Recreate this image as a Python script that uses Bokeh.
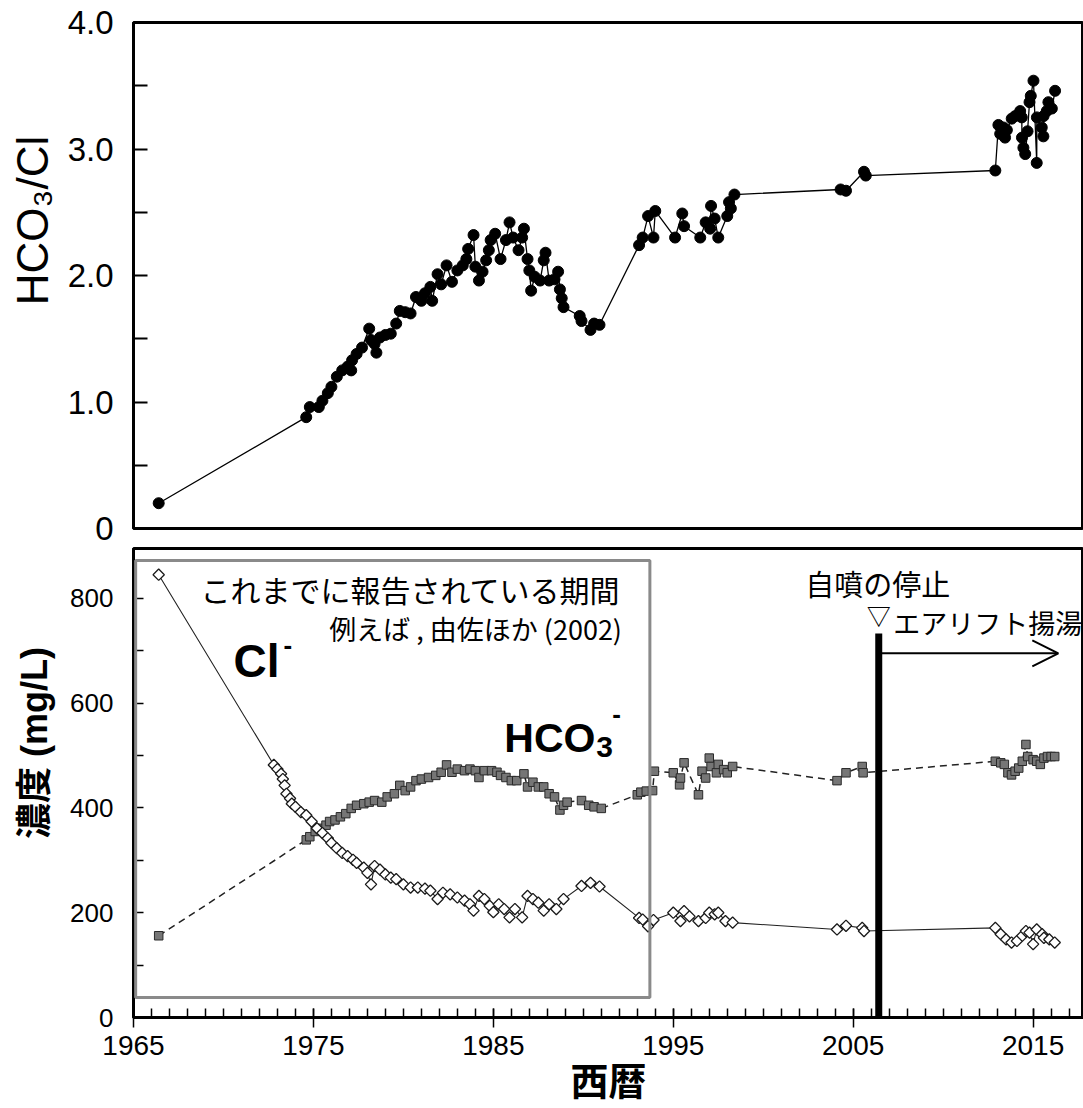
from bokeh.plotting import figure
from bokeh.layouts import column
from bokeh.models import (FixedTicker, CustomJSTickFormatter, Label, BoxAnnotation,
                          Arrow, OpenHead, Range1d)
from bokeh.embed import file_html
from bokeh.resources import INLINE

# ---------------- data ----------------
ratio_year = [1966.4, 1974.6, 1974.8, 1975.3, 1975.5, 1975.8, 1976.0, 1976.3, 1976.6, 1976.9,
              1977.1, 1977.15, 1977.4, 1977.7, 1978.1, 1978.2, 1978.4, 1978.5, 1978.7, 1979.0,
              1979.3, 1979.6, 1979.8, 1980.1, 1980.4, 1980.7, 1981.0, 1981.2, 1981.5, 1981.6,
              1981.9, 1982.1, 1982.4, 1982.7, 1983.0, 1983.3, 1983.5, 1983.6, 1983.9, 1984.0,
              1984.2, 1984.4, 1984.6, 1984.75, 1984.85, 1985.1, 1985.4, 1985.7, 1985.9, 1986.1,
              1986.4, 1986.6, 1986.7, 1986.9, 1987.0, 1987.1, 1987.3, 1987.6, 1987.8, 1987.9,
              1988.1, 1988.4, 1988.6, 1988.7, 1988.8, 1988.9, 1989.8, 1989.9, 1990.4, 1990.6,
              1990.9, 1993.1, 1993.3, 1993.6, 1993.9, 1994.0, 1995.1, 1995.5, 1995.6, 1996.5,
              1996.8, 1997.05, 1997.1, 1997.3, 1997.5, 1998.0, 1998.1, 1998.2, 1998.4, 2004.3,
              2004.6, 2005.6, 2005.7, 2012.9, 2013.07, 2013.17, 2013.35, 2013.44, 2013.54, 2013.81,
              2014.0, 2014.28, 2014.37, 2014.38, 2014.46, 2014.56, 2014.69, 2014.8, 2014.87, 2015.02,
              2015.2, 2015.21, 2015.48, 2015.57, 2015.58, 2015.76, 2015.85, 2016.04, 2016.22]
ratio_val = [0.20, 0.88, 0.96, 0.96, 1.01, 1.07, 1.12, 1.20, 1.25, 1.28,
             1.25, 1.33, 1.38, 1.43, 1.58, 1.49, 1.46, 1.39, 1.51, 1.53,
             1.54, 1.62, 1.72, 1.71, 1.70, 1.83, 1.80, 1.86, 1.91, 1.80,
             2.01, 1.93, 2.08, 1.95, 2.04, 2.08, 2.13, 2.21, 2.32, 2.07,
             1.96, 2.03, 2.12, 2.20, 2.28, 2.33, 2.13, 2.28, 2.42, 2.30,
             2.20, 2.30, 2.37, 2.13, 2.04, 1.88, 1.99, 1.96, 2.12, 2.18,
             1.96, 1.97, 2.03, 1.89, 1.82, 1.75, 1.68, 1.64, 1.57, 1.62,
             1.61, 2.24, 2.30, 2.47, 2.30, 2.51, 2.30, 2.49, 2.39, 2.30,
             2.42, 2.37, 2.55, 2.45, 2.30, 2.47, 2.58, 2.53, 2.64, 2.68,
             2.67, 2.82, 2.79, 2.83, 3.19, 3.12, 3.17, 3.09, 3.15, 3.24,
             3.26, 3.30, 3.25, 3.09, 3.01, 2.96, 3.14, 3.37, 3.42, 3.54,
             2.89, 3.25, 3.17, 3.10, 3.26, 3.30, 3.37, 3.32, 3.46]

cl_year = [1966.4, 1972.8, 1973.0, 1973.2, 1973.3, 1973.4, 1973.5, 1973.7, 1973.8, 1974.0,
           1974.3, 1974.6, 1974.9, 1975.2, 1975.5, 1975.8, 1976.0, 1976.3, 1976.6, 1976.9,
           1977.2, 1977.4, 1977.8, 1978.0, 1978.2, 1978.4, 1978.7, 1979.0, 1979.3, 1979.6,
           1980.0, 1980.4, 1980.8, 1981.2, 1981.5, 1981.9, 1982.2, 1982.6, 1983.0, 1983.4,
           1983.7, 1983.9, 1984.2, 1984.5, 1984.8, 1985.0, 1985.3, 1985.6, 1985.9, 1986.2,
           1986.6, 1986.9, 1987.2, 1987.5, 1987.8, 1988.1, 1988.5, 1988.9, 1989.9, 1990.4,
           1990.9, 1993.1, 1993.3, 1993.6, 1993.9, 1995.0, 1995.4, 1995.6, 1995.9, 1996.4,
           1996.8, 1997.0, 1997.3, 1997.5, 1997.9, 1998.3, 2004.1, 2004.6, 2005.5, 2005.6,
           2012.9, 2013.2, 2013.5, 2013.8, 2014.1, 2014.4, 2014.6, 2014.8, 2015.0, 2015.2,
           2015.5, 2015.6, 2015.9, 2016.2]
cl_val = [845, 482, 474, 465, 455, 443, 427, 418, 408, 402,
          392, 386, 374, 361, 352, 342, 333, 323, 314, 308,
          301, 295, 286, 276, 254, 289, 282, 273, 267, 264,
          254, 248, 248, 246, 242, 226, 238, 235, 229, 223,
          216, 204, 232, 226, 213, 201, 216, 207, 191, 207,
          191, 232, 226, 219, 204, 216, 207, 226, 251, 257,
          250, 190, 187, 174, 186, 200, 184, 203, 193, 184,
          190, 200, 197, 200, 184, 181, 168, 175, 171, 165,
          171, 159, 149, 143, 146, 156, 165, 162, 140, 168,
          159, 152, 149, 143]

hco3_year = [1966.4, 1974.6, 1974.8, 1975.1, 1975.4, 1975.7, 1975.9, 1976.2, 1976.5, 1976.8,
             1977.1, 1977.4, 1977.8, 1978.1, 1978.4, 1978.8, 1979.1, 1979.5, 1979.8, 1980.1,
             1980.4, 1980.7, 1981.0, 1981.4, 1981.8, 1982.1, 1982.4, 1982.7, 1983.0, 1983.4,
             1983.7, 1984.0, 1984.2, 1984.5, 1984.9, 1985.2, 1985.4, 1985.7, 1986.0, 1986.3,
             1986.7, 1986.9, 1987.2, 1987.5, 1987.8, 1988.1, 1988.4, 1988.7, 1988.9, 1989.1,
             1989.9, 1990.3, 1990.6, 1991.0, 1993.0, 1993.2, 1993.5, 1993.85, 1993.95, 1995.0,
             1995.35, 1995.4, 1995.6, 1996.4, 1996.6, 1996.8, 1997.0, 1997.1, 1997.4, 1997.5,
             1997.8, 1998.0, 1998.3, 2004.1, 2004.6, 2005.5, 2005.55, 2012.9, 2013.2, 2013.4,
             2013.6, 2013.8, 2014.0, 2014.2, 2014.4, 2014.6, 2014.7, 2015.0, 2015.2, 2015.4,
             2015.6, 2015.8, 2016.0, 2016.2]
hco3_val = [156, 339, 345, 355, 361, 367, 374, 377, 383, 389,
            399, 405, 408, 411, 414, 411, 421, 427, 443, 433,
            440, 452, 455, 458, 462, 468, 482, 468, 474, 471,
            474, 471, 458, 471, 471, 468, 462, 458, 452, 452,
            465, 440, 449, 440, 440, 427, 421, 396, 405, 411,
            414, 405, 402, 399, 425, 430, 432, 433, 470, 467,
            444, 457, 486, 425, 470, 457, 495, 479, 467, 483,
            473, 467, 479, 452, 467, 479, 467, 489, 486, 483,
            467, 463, 470, 476, 489, 521, 498, 492, 489, 483,
            495, 498, 498, 498]

x_major = [1965, 1975, 1985, 1995, 2005, 2015]
x_minor = list(range(1965, 2018))
ratio_ticks = [0, 1, 2, 3, 4]
ratio_minor = [0.5, 1.5, 2.5, 3.5]
conc_ticks = [0, 200, 400, 600, 800]
conc_minor = [100, 300, 500, 700]

reported_period = (1965.12, 1993.7)   # 報告されている期間
stop_year = 2006.42                    # 自噴の停止 / エアリフト揚湯開始
airlift_end = 2016.4

LAT = "Liberation Sans"
CJK = "Noto Sans CJK JP"
MIX = "Liberation Sans, Noto Sans CJK JP"
BLK = "black"
NB = "\u00a0"

xr = Range1d(1965, 2017.8)

# ---------------- top panel ----------------
p1 = figure(width=1083, height=546, x_range=xr, y_range=Range1d(0, 4.0),
            output_backend="svg", toolbar_location=None, x_axis_location=None,
            min_border_left=133, min_border_right=0, min_border_top=22, min_border_bottom=18)
p1.grid.visible = False
p1.outline_line_color = BLK
p1.outline_line_width = 3
p1.outline_line_alpha = 1
ya = p1.yaxis[0]
ya.ticker = FixedTicker(ticks=ratio_ticks, minor_ticks=ratio_minor)
ya.formatter = CustomJSTickFormatter(code="return tick == 0 ? '0' : tick.toFixed(1);")
ya.major_tick_in = 14
ya.major_tick_out = 0
ya.minor_tick_in = 14
ya.minor_tick_out = 0
ya.major_tick_line_width = 2
ya.minor_tick_line_width = 2
ya.major_tick_line_color = BLK
ya.minor_tick_line_color = BLK
ya.axis_line_width = 3
ya.axis_line_color = BLK
ya.major_label_text_font = LAT
ya.major_label_text_font_size = "33px"
ya.major_label_text_color = BLK
ya.major_label_standoff = 20
ya.axis_label = NB * 9 + "HCO\u2083/Cl"
ya.axis_label_text_font = LAT
ya.axis_label_text_font_size = "44px"
ya.axis_label_text_font_style = "normal"
ya.axis_label_text_color = BLK
ya.axis_label_standoff = 8

p1.line(ratio_year, ratio_val, line_color=BLK, line_width=1.3)
p1.scatter(ratio_year, ratio_val, size=11, fill_color=BLK, line_color=BLK)

# ---------------- bottom panel ----------------
p2 = figure(width=1083, height=562, x_range=xr, y_range=Range1d(0, 895),
            output_backend="svg", toolbar_location=None,
            min_border_left=133, min_border_right=0, min_border_top=2, min_border_bottom=90)
p2.grid.visible = False
p2.outline_line_color = BLK
p2.outline_line_width = 3
p2.outline_line_alpha = 1

yb = p2.yaxis[0]
yb.ticker = FixedTicker(ticks=conc_ticks, minor_ticks=conc_minor)
yb.major_tick_in = 10
yb.major_tick_out = 0
yb.minor_tick_in = 10
yb.minor_tick_out = 0
yb.major_tick_line_width = 1.5
yb.minor_tick_line_width = 1.5
yb.major_tick_line_color = BLK
yb.minor_tick_line_color = BLK
yb.axis_line_width = 3
yb.axis_line_color = BLK
yb.major_label_text_font = LAT
yb.major_label_text_font_size = "26px"
yb.major_label_text_color = BLK
yb.major_label_standoff = 20
yb.axis_label = NB * 8 + "濃度 (mg/L)"
yb.axis_label_text_font = MIX
yb.axis_label_text_font_size = "36px"
yb.axis_label_text_font_style = "bold"
yb.axis_label_text_color = BLK
yb.axis_label_standoff = 12

xb = p2.xaxis[0]
xb.ticker = FixedTicker(ticks=x_major, minor_ticks=x_minor)
xb.formatter = CustomJSTickFormatter(code="return tick.toFixed(0);")
xb.major_tick_in = 9
xb.major_tick_out = 10
xb.minor_tick_in = 9
xb.minor_tick_out = 0
xb.major_tick_line_width = 1.5
xb.minor_tick_line_width = 1.5
xb.major_tick_line_color = BLK
xb.minor_tick_line_color = BLK
xb.axis_line_width = 3
xb.axis_line_color = BLK
xb.major_label_text_font = LAT
xb.major_label_text_font_size = "28px"
xb.major_label_text_color = BLK
xb.major_label_standoff = 8
xb.axis_label = "西暦"
xb.axis_label_text_font = CJK
xb.axis_label_text_font_size = "38px"
xb.axis_label_text_font_style = "bold"
xb.axis_label_text_color = BLK
xb.axis_label_standoff = -7

# reported-period box
p2.add_layout(BoxAnnotation(left=reported_period[0], right=reported_period[1], bottom=38, top=872,
                            fill_alpha=0, line_color="#8a8a8a", line_alpha=1, line_width=3))

# series
p2.line(hco3_year, hco3_val, line_color="#222222", line_width=1.5, line_dash="7 5")
p2.line(cl_year, cl_val, line_color="#222222", line_width=1.1)
p2.scatter(hco3_year, hco3_val, marker="square", size=8.5, fill_color="#767676",
           line_color="#2a2a2a", line_width=1)
p2.scatter(cl_year, cl_val, marker="square", angle=0.785398, size=8, fill_color="white",
           line_color="#1a1a1a", line_width=1.3)

# event bar + arrow
p2.segment(x0=[stop_year], y0=[0], x1=[stop_year], y1=[733], line_color=BLK, line_width=7)
p2.add_layout(Arrow(end=OpenHead(size=26, line_width=2, line_color=BLK),
                    x_start=stop_year, y_start=695, x_end=airlift_end, y_end=695,
                    line_width=2, line_color=BLK))

# texts
p2.add_layout(Label(x=1992.06, y=817, text="これまでに報告されている期間", text_font=CJK,
                    text_font_size="30px", text_color=BLK, text_align="right",
                    text_baseline="middle"))
p2.add_layout(Label(x=1992.15, y=742, text="例えば , 由佐ほか (2002)", text_font=CJK,
                    text_font_size="27px", text_color=BLK, text_align="right",
                    text_baseline="middle"))
p2.add_layout(Label(x=1970.56, y=681, text="Cl", text_font=LAT, text_font_style="bold",
                    text_font_size="46px", text_color=BLK, text_align="left",
                    text_baseline="middle"))
p2.add_layout(Label(x=1970.56, y=681, x_offset=50, y_offset=16, text="-", text_font=LAT,
                    text_font_style="bold", text_font_size="26px", text_color=BLK,
                    text_align="left", text_baseline="middle"))
p2.add_layout(Label(x=1985.61, y=534, text="HCO", text_font=LAT, text_font_style="bold",
                    text_font_size="41px", text_color=BLK, text_align="left",
                    text_baseline="middle"))
p2.add_layout(Label(x=1985.61, y=534, x_offset=92, y_offset=-9, text="3", text_font=LAT,
                    text_font_style="bold", text_font_size="30px", text_color=BLK,
                    text_align="left", text_baseline="middle"))
p2.add_layout(Label(x=1985.61, y=534, x_offset=108, y_offset=24, text="-", text_font=LAT,
                    text_font_style="bold", text_font_size="26px", text_color=BLK,
                    text_align="left", text_baseline="middle"))
p2.add_layout(Label(x=2002.33, y=830, text="自噴の停止", text_font=CJK,
                    text_font_size="29px", text_color=BLK, text_align="left",
                    text_baseline="middle"))
p2.add_layout(Label(x=stop_year, y=770, text="▽", text_font=CJK,
                    text_font_size="24px", text_color=BLK, text_align="center",
                    text_baseline="middle"))
p2.add_layout(Label(x=2007.22, y=754, text="エアリフト揚湯", text_font=CJK,
                    text_font_size="27px", text_color=BLK, text_align="left",
                    text_baseline="middle"))

layout = column(p1, p2)
open("out.html", "w").write(file_html(layout, INLINE))
